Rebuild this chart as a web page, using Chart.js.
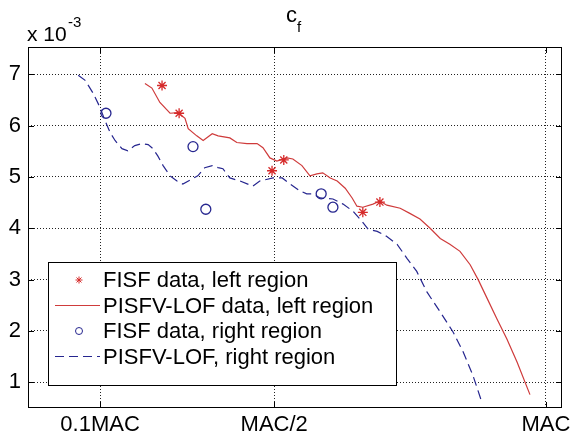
<!DOCTYPE html>
<html>
<head>
<meta charset="utf-8">
<script src="https://cdn.jsdelivr.net/npm/chart.js@4/dist/chart.umd.min.js"></script>
<style>
  html, body { margin: 0; padding: 0; background: #fff; }
  #wrap { width: 571px; height: 438px; }
</style>
</head>
<body>
<div id="wrap"><canvas id="cf" width="571" height="438"></canvas></div>
<script>
// x axis: position along the chord (arbitrary units, 0..100 across the plot)
const xTicks = [13.5, 46.1, 97.0];
const xTickLabels = ["0.1MAC", "MAC/2", "MAC"];
const yTicks = [1, 2, 3, 4, 5, 6, 7];

// FISF data, left region (stars)
const fisfLeftX = [25.1, 28.3, 45.7, 47.9, 62.7, 65.9];
const fisfLeftY = [6.78, 6.24, 5.12, 5.33, 4.31, 4.51];

// PISFV-LOF data, left region (solid red)
const pisfLeftX = [21.9, 23.2, 24.7, 26.6, 28.1, 29.4, 30.0, 31.6, 32.8, 34.5, 35.6, 37.8, 39.1, 41.0, 42.9, 44.0,
  45.3, 46.6, 48.5, 49.6, 51.3, 52.8, 54.1, 55.2, 56.6, 57.9, 59.4, 60.7, 61.6, 62.7, 64.6, 65.9, 67.2, 69.7,
  71.5, 73.4, 75.3, 77.2, 79.0, 80.9, 82.8, 84.3, 86.0, 87.8, 89.7, 91.6, 94.0];
const pisfLeftY = [6.82, 6.73, 6.45, 6.24, 6.25, 6.14, 5.94, 5.80, 5.71, 5.84, 5.80, 5.76, 5.67, 5.65, 5.65, 5.57,
  5.37, 5.31, 5.37, 5.35, 5.22, 5.02, 5.06, 5.08, 4.98, 4.92, 4.78, 4.59, 4.43, 4.41, 4.47, 4.53, 4.45, 4.39,
  4.29, 4.18, 4.00, 3.80, 3.69, 3.55, 3.29, 3.00, 2.63, 2.24, 1.84, 1.39, 0.76];

// FISF data, right region (circles)
const fisfRightX = [14.6, 30.9, 33.3, 54.9, 57.1];
const fisfRightY = [6.24, 5.59, 4.37, 4.67, 4.41];

// PISFV-LOF, right region (dashed blue)
const pisfRightX = [9.4, 10.7, 12.2, 13.5, 14.4, 15.4, 16.3, 17.6, 18.7, 20.0, 21.3, 22.5, 23.4, 24.3, 25.3, 26.6,
  27.9, 29.0, 30.7, 31.8, 33.1, 34.5, 35.6, 36.5, 37.8, 39.7, 42.1, 43.4, 45.9, 47.6, 49.1, 50.9, 52.2, 53.4,
  54.7, 57.1, 59.0, 60.9, 62.5, 63.7, 65.4, 67.2, 69.1, 71.0, 72.8, 74.7, 77.2, 79.6, 81.5, 83.3, 85.0];
const pisfRightY = [6.98, 6.88, 6.63, 6.35, 6.10, 5.86, 5.71, 5.55, 5.51, 5.61, 5.65, 5.63, 5.55, 5.41, 5.22, 5.02,
  4.92, 4.86, 4.96, 5.02, 5.18, 5.22, 5.18, 5.16, 4.98, 4.92, 4.82, 4.92, 4.98, 4.98, 4.86, 4.73, 4.67, 4.67,
  4.59, 4.57, 4.47, 4.33, 4.14, 3.98, 3.94, 3.84, 3.69, 3.41, 3.16, 2.76, 2.37, 1.98, 1.59, 1.14, 0.61];

const RED = "#d62a2a";
const RED_LINE = "#cf3b3b";
const BLUE = "#26268f";

const FONT = "'Liberation Sans', Arial, sans-serif";
const pts = (xs, ys) => xs.map((x, i) => ({ x: x, y: ys[i] }));

// === box, inner ticks, title, exponent and legend (matlab look) ===
const matlabDecor = {
  id: "matlabDecor",
  afterDraw(chart) {
    const ctx = chart.ctx;
    const a = chart.chartArea;
    const xs = chart.scales.x, ys = chart.scales.y;
    ctx.save();

    // frame
    ctx.strokeStyle = "#000";
    ctx.lineWidth = 1;
    ctx.strokeRect(a.left + 0.5, a.top + 0.5, a.right - a.left - 1, a.bottom - a.top - 1);

    // inner tick marks
    ctx.beginPath();
    xTicks.forEach(v => {
      const px = Math.round(xs.getPixelForValue(v)) + 0.5;
      ctx.moveTo(px, a.bottom); ctx.lineTo(px, a.bottom - 6);
      ctx.moveTo(px, a.top); ctx.lineTo(px, a.top + 6);
    });
    yTicks.forEach(v => {
      const py = Math.round(ys.getPixelForValue(v)) + 0.5;
      ctx.moveTo(a.left, py); ctx.lineTo(a.left + 6, py);
      ctx.moveTo(a.right, py); ctx.lineTo(a.right - 6, py);
    });
    ctx.stroke();

    // title c_f
    ctx.fillStyle = "#000";
    ctx.textBaseline = "alphabetic";
    ctx.textAlign = "left";
    ctx.font = "22px " + FONT;
    ctx.fillText("c", 286, 22);
    ctx.font = "15px " + FONT;
    ctx.fillText("f", 297, 32);

    // exponent label
    ctx.font = "21px " + FONT;
    ctx.fillText("x 10", 27, 41);
    ctx.font = "15px " + FONT;
    ctx.fillText("-3", 68, 27);

    // legend
    const lx = 48, ly = 262, lw = 348, lh = 123;
    ctx.fillStyle = "#fff";
    ctx.fillRect(lx, ly, lw, lh);
    ctx.strokeStyle = "#000";
    ctx.lineWidth = 1;
    ctx.strokeRect(lx + 0.5, ly + 0.5, lw, lh);
    ctx.font = "22px " + FONT;
    ctx.textBaseline = "middle";
    chart.data.datasets.forEach((ds, i) => {
      const ry = 280 + i * 25.5;
      ctx.save();
      if (ds.showLine) {
        ctx.strokeStyle = ds.borderColor;
        ctx.lineWidth = ds.borderWidth;
        ctx.setLineDash(ds.borderDash || []);
        ctx.beginPath();
        ctx.moveTo(55, ry); ctx.lineTo(100, ry);
        ctx.stroke();
      } else {
        ctx.strokeStyle = ds.pointBorderColor;
        ctx.fillStyle = ds.pointBackgroundColor;
        ctx.lineWidth = 1;
        Chart.helpers.drawPoint(ctx, { pointStyle: ds.pointStyle, radius: 3.5, rotation: 0, borderWidth: 1 }, 79, ry);
      }
      ctx.restore();
      ctx.fillStyle = "#000";
      ctx.fillText(ds.label, 103, ry + 1);
    });
    ctx.restore();
  }
};

new Chart(document.getElementById("cf"), {
  type: "scatter",
  data: {
    datasets: [
      {
        label: "FISF data, left region",
        data: pts(fisfLeftX, fisfLeftY),
        showLine: false,
        pointStyle: "star",
        pointRadius: 5,
        pointBorderWidth: 1.3,
        pointBorderColor: RED,
        pointBackgroundColor: RED,
        order: 0
      },
      {
        label: "PISFV-LOF data, left region",
        data: pts(pisfLeftX, pisfLeftY),
        showLine: true,
        borderColor: RED_LINE,
        borderWidth: 1.2,
        pointRadius: 0,
        tension: 0,
        order: 2
      },
      {
        label: "FISF data, right region",
        data: pts(fisfRightX, fisfRightY),
        showLine: false,
        pointStyle: "circle",
        pointRadius: 5,
        pointBorderWidth: 1.3,
        pointBorderColor: BLUE,
        pointBackgroundColor: "rgba(0,0,0,0)",
        order: 1
      },
      {
        label: "PISFV-LOF, right region",
        data: pts(pisfRightX, pisfRightY),
        showLine: true,
        borderColor: BLUE,
        borderWidth: 1.2,
        borderDash: [9, 5],
        pointRadius: 0,
        tension: 0,
        order: 3
      }
    ]
  },
  options: {
    responsive: false,
    animation: false,
    devicePixelRatio: 1,
    layout: { padding: { top: 47, right: 9, left: 0, bottom: 0 } },
    plugins: {
      legend: { display: false },
      tooltip: { enabled: false },
      title: { display: false }
    },
    scales: {
      x: {
        type: "linear",
        min: 0,
        max: 100,
        afterBuildTicks: s => { s.ticks = xTicks.map(v => ({ value: v })); },
        afterFit: s => { s.height = 30; s.paddingLeft = 0; s.paddingRight = 0; },
        ticks: {
          autoSkip: false,
          maxRotation: 0,
          padding: 4,
          color: "#000",
          font: { family: FONT, size: 22 },
          callback: (v, i) => xTickLabels[i]
        },
        grid: { color: "#222", lineWidth: 1, drawTicks: false },
        border: { display: false, dash: [1, 2] }
      },
      y: {
        type: "linear",
        min: 0.5,
        max: 7.53,
        afterBuildTicks: s => { s.ticks = yTicks.map(v => ({ value: v })); },
        afterFit: s => { s.width = 28; s.paddingTop = 0; s.paddingBottom = 0; },
        ticks: {
          padding: 7,
          color: "#000",
          font: { family: FONT, size: 22 },
          callback: v => String(v)
        },
        grid: { color: "#222", lineWidth: 1, drawTicks: false },
        border: { display: false, dash: [1, 2] }
      }
    }
  },
  plugins: [matlabDecor]
});
</script>
</body>
</html>
